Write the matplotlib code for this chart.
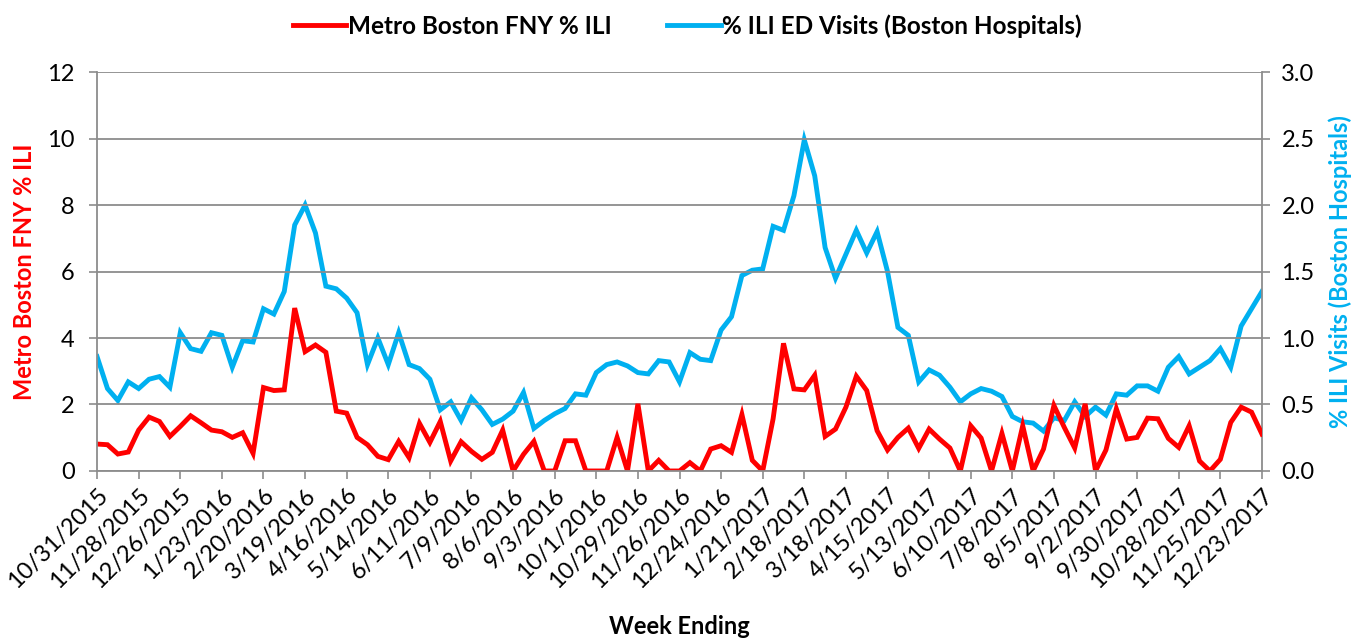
import pandas as pd
import matplotlib
matplotlib.use("Agg")
import matplotlib.pyplot as plt

plt.rcParams['font.family'] = ['Lato', 'DejaVu Sans']

# weekly values, week ending 10/31/2015 .. 12/23/2017
weeks = pd.date_range("2015-10-31", periods=113, freq="7D")

fny_ili = [
    0.81, 0.79, 0.51, 0.57, 1.23, 1.62, 1.49, 1.04, 1.34, 1.66,
    1.45, 1.23, 1.18, 1.01, 1.15, 0.53, 2.51, 2.42, 2.44, 4.90,
    3.59, 3.79, 3.57, 1.80, 1.74, 1.01, 0.79, 0.44, 0.34, 0.89,
    0.40, 1.43, 0.86, 1.49, 0.30, 0.88, 0.59, 0.35, 0.56, 1.23,
    0.00, 0.50, 0.89, 0.00, 0.00, 0.91, 0.91, 0.00, 0.00, 0.00,
    1.01, 0.00, 2.02, 0.00, 0.32, 0.00, 0.00, 0.25, 0.00, 0.66,
    0.76, 0.56, 1.70, 0.32, 0.00, 1.57, 3.84, 2.47, 2.44, 2.88,
    1.04, 1.26, 1.92, 2.85, 2.42, 1.21, 0.63, 1.01, 1.29, 0.68,
    1.26, 0.96, 0.69, 0.00, 1.36, 0.99, 0.00, 1.13, 0.00, 1.36,
    0.00, 0.66, 1.97, 1.31, 0.69, 2.02, 0.00, 0.63, 1.87, 0.96,
    1.01, 1.59, 1.57, 0.98, 0.71, 1.36, 0.30, 0.00, 0.35, 1.46,
    1.92, 1.77, 1.11,
]

ed_ili = [
    0.86, 0.62, 0.53, 0.67, 0.62, 0.69, 0.71, 0.63, 1.04, 0.92,
    0.90, 1.04, 1.02, 0.78, 0.98, 0.97, 1.22, 1.18, 1.35, 1.85,
    2.00, 1.79, 1.39, 1.37, 1.30, 1.19, 0.80, 1.00, 0.80, 1.04,
    0.80, 0.77, 0.69, 0.46, 0.52, 0.38, 0.55, 0.46, 0.35, 0.39,
    0.45, 0.59, 0.32, 0.38, 0.43, 0.47, 0.58, 0.57, 0.74, 0.80,
    0.82, 0.79, 0.74, 0.73, 0.83, 0.82, 0.67, 0.89, 0.84, 0.83,
    1.06, 1.16, 1.47, 1.51, 1.52, 1.84, 1.81, 2.07, 2.49, 2.22,
    1.68, 1.45, 1.63, 1.81, 1.64, 1.80, 1.50, 1.08, 1.02, 0.67,
    0.76, 0.72, 0.63, 0.52, 0.58, 0.62, 0.60, 0.56, 0.41, 0.37,
    0.36, 0.30, 0.40, 0.38, 0.52, 0.41, 0.48, 0.42, 0.58, 0.57,
    0.64, 0.64, 0.60, 0.78, 0.86, 0.73, 0.78, 0.83, 0.92, 0.78,
    1.09, 1.22, 1.35,
]

left_ticks = [0, 2, 4, 6, 8, 10, 12]
right_ticks = [0.0, 0.5, 1.0, 1.5, 2.0, 2.5, 3.0]

RED = "#FF0000"
BLUE = "#00B0F0"
GRID = "#8C8C8C"

x = list(range(len(weeks)))
labels = [f"{d.month}/{d.day}/{d.year}" for d in weeks]

fig = plt.figure(figsize=(13.69, 6.38), dpi=100)
ax = fig.add_axes([0.0709, 0.2618, 0.8509, 0.6252])
ax2 = ax.twinx()

l1, = ax.plot(x, fny_ili, color=RED, lw=3.5, solid_joinstyle='miter', label="Metro Boston FNY % ILI")
l2, = ax2.plot(x, ed_ili, color=BLUE, lw=3.5, solid_joinstyle='miter', label="% ILI ED Visits (Boston Hospitals)")
ax.set_zorder(ax2.get_zorder() + 1)
ax.patch.set_visible(False)

ax.set_xlim(0, len(x) - 1)
ax.set_ylim(0, 12)
ax2.set_ylim(0, 3.0)
ax.set_yticks(left_ticks)
ax2.set_yticks(right_ticks)
ax2.set_yticklabels([f"{v:.1f}" for v in right_ticks])
ax.set_xticks(x[::4])
ax.set_xticklabels(labels[::4], rotation=45, ha='right', va='top',
                   rotation_mode='anchor', fontsize=17)

ax.grid(axis='y', color=GRID, lw=1.3)
ax.set_axisbelow(True)
for a in (ax, ax2):
    for s in a.spines.values():
        s.set_visible(False)
    a.tick_params(axis='y', labelsize=17, length=6, width=1.2, color=GRID, pad=8)
ax.tick_params(axis='y', pad=10)
ax.spines['left'].set_visible(True)
ax.spines['left'].set_color(GRID)
ax.spines['left'].set_linewidth(1.3)
ax.spines['bottom'].set_visible(True)
ax.spines['bottom'].set_color(GRID)
ax.spines['bottom'].set_linewidth(1.3)
ax2.spines['right'].set_visible(True)
ax2.spines['right'].set_color(GRID)
ax2.spines['right'].set_linewidth(1.3)
ax.tick_params(axis='x', length=6, width=1.2, color=GRID, pad=4)

ax.set_ylabel("Metro Boston FNY % ILI", color=RED, fontsize=17, fontweight='bold', labelpad=8)
ax2.set_ylabel("% ILI Visits (Boston Hospitals)", color=BLUE, fontsize=17, fontweight='bold', labelpad=10)
ax.set_xlabel("Week Ending", fontsize=17, fontweight='bold', labelpad=16)

fig.legend(handles=[l1, l2], loc='upper center', bbox_to_anchor=(0.502, 1.012), ncol=2,
           frameon=False, prop={'weight': 'bold', 'size': 17.5},
           handlelength=2.2, columnspacing=2.3, handletextpad=0.05)

fig.savefig("out.png", dpi=100)
